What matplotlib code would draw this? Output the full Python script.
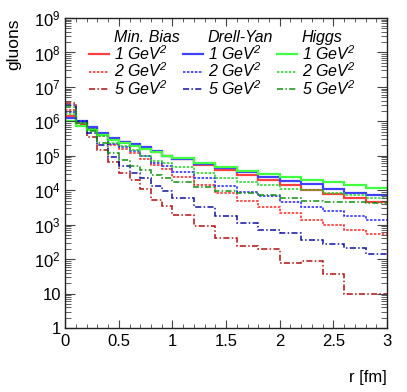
import numpy as np
import matplotlib
matplotlib.use("Agg")
import matplotlib.pyplot as plt
from matplotlib.ticker import FixedLocator, FuncFormatter, LogLocator, NullFormatter
from matplotlib.lines import Line2D
from matplotlib.legend import Legend

plt.rcParams['font.family'] = ['Liberation Sans', 'DejaVu Sans']
plt.rcParams['mathtext.default'] = 'regular'

# bin edges (fm)
r_edges = [0.0, 0.1, 0.2, 0.3, 0.4, 0.5, 0.6, 0.7, 0.8, 0.9, 1.0,
           1.2, 1.4, 1.6, 1.8, 2.0, 2.2, 2.4, 2.6, 2.8, 3.0]

# Min. Bias
mb_1 = [1.41e6, 8.9e5, 6.3e5, 4.3e5, 3.0e5, 2.45e5, 2.05e5, 1.66e5, 1.26e5, 9.8e4,
        7.9e4, 5.5e4, 4.0e4, 2.75e4, 1.95e4, 1.45e4, 1.05e4, 7.9e3, 5.9e3, 4.5e3]
mb_2 = [2.2e6, 8.9e5, 5.5e5, 3.7e5, 2.05e5, 1.55e5, 1.23e5, 7.9e4, 5.6e4, 4.1e4,
        2.45e4, 1.45e4, 8.5e3, 4.8e3, 3.2e3, 2.2e3, 1.35e3, 980, 720, 550]
mb_5 = [3.4e6, 7.6e5, 3.5e5, 1.45e5, 6.6e4, 3.2e4, 1.95e4, 1.12e4, 5.4e3, 3.4e3,
        1.9e3, 910, 400, 235, 200, 79, 91, 37, 9.5, 9.5]
# Drell-Yan
dy_1 = [1.23e6, 1.02e6, 6.8e5, 4.6e5, 3.2e5, 2.6e5, 2.2e5, 1.78e5, 1.35e5, 1.02e5,
        8.1e4, 5.8e4, 4.4e4, 3.4e4, 2.45e4, 1.86e4, 1.55e4, 1.1e4, 8.5e3, 7.4e3]
dy_2 = [1.86e6, 9.5e5, 5.9e5, 4.0e5, 2.2e5, 1.78e5, 1.35e5, 9.8e4, 6.3e4, 5.0e4,
        3.5e4, 2.2e4, 1.32e4, 8.7e3, 6.8e3, 4.6e3, 3.3e3, 2.45e3, 1.74e3, 1.4e3]
dy_5 = [2.95e6, 1.02e6, 4.6e5, 2.05e5, 9.5e4, 5.0e4, 3.2e4, 2.2e4, 1.32e4, 9.3e3,
        5.8e3, 3.2e3, 1.78e3, 1.1e3, 720, 590, 370, 280, 205, 138]
# Higgs
h_1 = [1.02e6, 7.2e5, 5.5e5, 4.0e5, 2.8e5, 2.4e5, 1.95e5, 1.58e5, 1.26e5, 1.0e5,
       8.5e4, 6.3e4, 4.9e4, 3.55e4, 2.9e4, 2.5e4, 2.05e4, 1.74e4, 1.45e4, 1.2e4]
h_2 = [1.62e6, 8.9e5, 5.9e5, 3.8e5, 2.3e5, 1.9e5, 1.45e5, 9.8e4, 7.1e4, 6.3e4,
       4.6e4, 3.1e4, 2.25e4, 1.74e4, 1.38e4, 1.12e4, 1.0e4, 8.1e3, 7.4e3, 6.0e3]
h_5 = [2.6e6, 8.9e5, 5.1e5, 2.3e5, 1.23e5, 7.6e4, 5.0e4, 3.8e4, 2.8e4, 2.3e4,
       1.74e4, 1.26e4, 9.5e3, 8.1e3, 7.1e3, 6.0e3, 5.0e3, 4.5e3, 4.5e3, 4.4e3]

samples = ["Min. Bias", "Drell-Yan", "Higgs"]
q2_labels = ["1 GeV$^{2}$", "2 GeV$^{2}$", "5 GeV$^{2}$"]
series = [[mb_1, mb_2, mb_5], [dy_1, dy_2, dy_5], [h_1, h_2, h_5]]

colors = [["#ff4040", "#ff2020", "#b01010"],
          ["#4040ff", "#2020ff", "#1010a0"],
          ["#40ff40", "#20d020", "#109010"]]
styles = ["-", (0, (1.6, 1.0)), (0, (4, 1.5, 1, 1.5))]
widths = [1.6, 1.1, 1.1]

fig = plt.figure(figsize=(4.07, 3.92), dpi=100)
ax = fig.add_axes([0.16, 0.163, 0.791, 0.791])

legend_x = [0.0745, 0.366, 0.658]
for s, name in enumerate(samples):
    handles = [Line2D([], [], color='none')]
    labels = [name]
    for q in range(3):
        ax.stairs(series[s][q], r_edges, baseline=None, color=colors[s][q],
                  linestyle=styles[q], linewidth=widths[q])
        handles.append(Line2D([], [], color=colors[s][q], linestyle=styles[q],
                              linewidth=widths[q]))
        labels.append(q2_labels[q])
    leg = Legend(ax, handles, labels, ncol=1, loc='upper left',
                 bbox_to_anchor=(legend_x[s], 0.962), frameon=False,
                 prop={'style': 'italic', 'size': 11.5},
                 handlelength=1.25, handletextpad=0.3,
                 labelspacing=-0.06, borderpad=0, borderaxespad=0)
    ax.add_artist(leg)

ax.set_yscale('log')
ax.set_xlim(0, 3)
ax.set_ylim(1, 1e9)

ax.xaxis.set_major_locator(FixedLocator([0, 0.5, 1, 1.5, 2, 2.5, 3]))
ax.xaxis.set_minor_locator(FixedLocator(np.arange(0, 3.01, 0.1)))
ax.xaxis.set_major_formatter(FuncFormatter(lambda v, p: "%g" % v))

ax.yaxis.set_major_locator(LogLocator(base=10, numticks=20))
ax.yaxis.set_minor_locator(LogLocator(base=10, subs=np.arange(2, 10), numticks=20))
ax.yaxis.set_minor_formatter(NullFormatter())

def yfmt(v, p):
    e = int(round(np.log10(v)))
    if e == 0:
        return "1"
    if e == 1:
        return "10"
    return "10$^{%d}$" % e
ax.yaxis.set_major_formatter(FuncFormatter(yfmt))

ax.tick_params(which='both', direction='in', top=True, right=True, labelsize=12,
               color='#444444')
ax.tick_params(axis='y', which='major', length=7, pad=3)
ax.tick_params(axis='y', which='minor', length=4)
ax.tick_params(axis='x', which='major', length=6, pad=4)
ax.tick_params(axis='x', which='minor', length=3)
for sp in ax.spines.values():
    sp.set_color('#222222')
    sp.set_linewidth(1.0)

ax.set_ylabel("gluons", fontsize=12.5)
ax.yaxis.set_label_coords(-0.137, 1.0)
ax.yaxis.label.set_ha('right')
ax.set_xlabel("r [fm]", fontsize=12)
ax.xaxis.set_label_coords(1.0, -0.135)
ax.xaxis.label.set_ha('right')

fig.savefig("out.png", dpi=100)
